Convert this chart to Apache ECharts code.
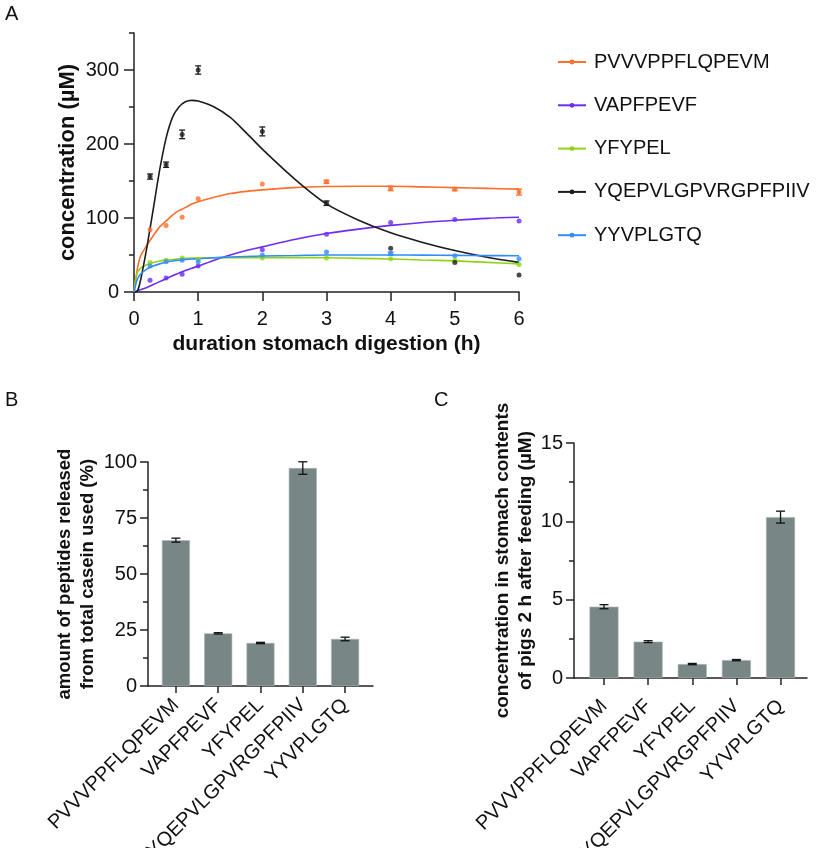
<!DOCTYPE html>
<html>
<head>
<meta charset="utf-8">
<script src="https://cdn.jsdelivr.net/npm/echarts@6/dist/echarts.min.js"></script>
<style>
html,body{margin:0;padding:0;background:#fff;}
#chart{width:825px;height:848px;}
</style>
</head>
<body>
<div id="chart"></div>
<script>
// ---------- DATA ----------
var peptides = ['PVVVPPFLQPEVM', 'VAPFPEVF', 'YFYPEL', 'YQEPVLGPVRGPFPIIV', 'YYVPLGTQ'];
var colorsA = ['#ff6e2a', '#6c2cf6', '#8fd314', '#1c1c1c', '#2e8cff'];

// Panel A measured points (time in h, concentration in µM)
var timesA = [0.25, 0.5, 0.75, 1, 2, 3, 4, 5, 6];
var pvvvA  = [84, 90, 101, 126, 146, 149, 140, 139, 135];
var vapfA  = [16, 19, 24, 35, 57, 78, 94, 98, 96];
var yfypA  = [40, 43, 46, 44, 46, 46, 45, 43, 37];
var yqepA  = [156, 172, 213, 300, 217, 120, 59, 40, 23];
var yyvpA  = [35, 41, 43, 41, 50, 54, 52, 49, 45];
// error (± SD)
var pvvvErrA = [0, 0, 0, 0, 0, 2, 3, 2, 4];
var vapfErrA = [0, 0, 0, 0, 0, 0, 0, 0, 0];
var yfypErrA = [0, 0, 0, 0, 0, 0, 0, 0, 0];
var yqepErrA = [3.5, 3.6, 5.8, 5.6, 6, 3, 0, 0, 0];
var yyvpErrA = [0, 0, 0, 0, 0, 0, 2, 0, 0];

// Panel A fitted curves
var fitTimes = [0, 0.05, 0.1, 0.2, 0.3, 0.4, 0.5, 0.6, 0.7, 0.8, 0.9, 1, 1.25, 1.5, 1.75, 2, 2.5, 3, 3.5, 4, 4.5, 5, 5.5, 6];
var pvvvFit = [0, 30, 48, 63, 76, 88, 96, 104, 110, 114, 119, 122, 128, 133, 136, 138, 141, 142.5, 143, 143, 142, 141, 140, 139];
var vapfFit = [0, 1.5, 3, 6, 10, 14, 18, 22, 25.5, 29, 32, 35, 43, 50, 56, 61, 71, 79, 85, 90, 94, 97, 99.5, 101];
var yfypFit = [0, 26, 32, 37, 40, 42, 43, 44, 45, 45.5, 46, 46, 46.3, 46.5, 46.5, 46.5, 46.5, 46.3, 45.5, 44.6, 43.3, 42, 40, 38];
var yqepFit = [0, 1, 15, 60, 112, 165, 208, 236, 250, 257, 259, 258, 250, 236, 215, 193, 153, 119, 97, 80, 67, 56, 47, 40];
var yyvpFit = [0, 17, 24, 31, 35, 38, 40.5, 42, 43, 44, 44.5, 45, 46.3, 47.3, 48, 48.7, 49.3, 50, 50, 50, 49.8, 49.5, 49.2, 49];

var yTicksA = [0, 100, 200, 300];
var yMinorA = [50, 150, 250, 350];
var xTicksA = [0, 1, 2, 3, 4, 5, 6];

// Panel B: amount of peptides released from total casein used (%)
var valuesB = [65.1, 23.5, 19.2, 97.3, 21.0];
var errB    = [0.9, 0.3, 0.3, 2.8, 0.8];
// Panel C: concentration in stomach contents of pigs 2 h after feeding (µM)
var valuesC = [4.55, 2.32, 0.89, 1.14, 10.27];
var errC    = [0.13, 0.06, 0.04, 0.04, 0.38];
var catIdx  = [0, 1, 2, 3, 4];

// ---------- BUILD ----------
var FONT = 'Liberation Sans, Arial, Helvetica, sans-serif';
var AX = '#222222';
var BAR = '#788785';

function zip(xs, ys) { return xs.map(function (x, i) { return [x, ys[i]]; }); }
function errData(xs, ys, es) {
  var out = [];
  xs.forEach(function (x, i) { if (es[i] > 0) out.push([x, ys[i] - es[i], ys[i] + es[i]]); });
  return out;
}
function errRender(capHalf, color, width) {
  return function (params, api) {
    var x = api.value(0);
    var lo = api.coord([x, api.value(1)]);
    var hi = api.coord([x, api.value(2)]);
    var st = { stroke: color, lineWidth: width };
    return {
      type: 'group',
      children: [
        { type: 'line', shape: { x1: lo[0], y1: lo[1], x2: hi[0], y2: hi[1] }, style: st },
        { type: 'line', shape: { x1: lo[0] - capHalf, y1: lo[1], x2: lo[0] + capHalf, y2: lo[1] }, style: st },
        { type: 'line', shape: { x1: hi[0] - capHalf, y1: hi[1], x2: hi[0] + capHalf, y2: hi[1] }, style: st }
      ]
    };
  };
}

var pointsA = [pvvvA, vapfA, yfypA, yqepA, yyvpA];
var errsA = [pvvvErrA, vapfErrA, yfypErrA, yqepErrA, yyvpErrA];
var fitsA = [pvvvFit, vapfFit, yfypFit, yqepFit, yyvpFit];

var series = [];
peptides.forEach(function (name, i) {
  series.push({
    name: name, type: 'line', xAxisIndex: 0, yAxisIndex: 0,
    data: zip(fitTimes, fitsA[i]), smooth: 0.3,
    symbol: 'circle', symbolSize: 4, showSymbol: false,
    lineStyle: { color: colorsA[i], width: 1.6 }, itemStyle: { color: colorsA[i] },
    z: 3, silent: true
  });
});
peptides.forEach(function (name, i) {
  series.push({
    name: name + ' data', type: 'scatter', xAxisIndex: 0, yAxisIndex: 0,
    data: zip(timesA, pointsA[i]), symbol: 'circle', symbolSize: 5,
    itemStyle: { color: colorsA[i] }, z: 4, silent: true
  });
  series.push({
    name: name + ' err', type: 'custom', xAxisIndex: 0, yAxisIndex: 0,
    renderItem: errRender(3, colorsA[i], 1.3),
    data: errData(timesA, pointsA[i], errsA[i]), z: 4, silent: true,
    encode: { x: 0, y: [1, 2] }
  });
});
// Panel B bars
series.push({
  name: 'B', type: 'bar', xAxisIndex: 1, yAxisIndex: 2,
  data: zip(catIdx, valuesB), barWidth: 28,
  itemStyle: { color: BAR, borderColor: '#a9b4b3', borderWidth: 0.6 }, silent: true
});
series.push({
  name: 'B err', type: 'custom', xAxisIndex: 1, yAxisIndex: 2,
  renderItem: errRender(4.5, '#111', 1.3), data: errData(catIdx, valuesB, errB), z: 5, silent: true,
  encode: { x: 0, y: [1, 2] }
});
// Panel C bars
series.push({
  name: 'C', type: 'bar', xAxisIndex: 2, yAxisIndex: 3,
  data: zip(catIdx, valuesC), barWidth: 29,
  itemStyle: { color: BAR, borderColor: '#a9b4b3', borderWidth: 0.6 }, silent: true
});
series.push({
  name: 'C err', type: 'custom', xAxisIndex: 2, yAxisIndex: 3,
  renderItem: errRender(4.5, '#111', 1.3), data: errData(catIdx, valuesC, errC), z: 5, silent: true,
  encode: { x: 0, y: [1, 2] }
});

var labelStyle = { color: '#111', fontFamily: FONT, fontSize: 20 };
var nameStyle = { color: '#111', fontFamily: FONT, fontWeight: 'bold' };

var option = {
  animation: false,
  backgroundColor: '#ffffff',
  title: [
    { text: 'A', left: 0, top: -1, textStyle: { fontFamily: FONT, fontSize: 20, fontWeight: 'normal', color: '#111' } },
    { text: 'B', left: 0, top: 385, textStyle: { fontFamily: FONT, fontSize: 20, fontWeight: 'normal', color: '#111' } },
    { text: 'C', left: 429, top: 385, textStyle: { fontFamily: FONT, fontSize: 20, fontWeight: 'normal', color: '#111' } }
  ],
  legend: {
    data: peptides, orient: 'vertical', left: 552, top: 47,
    itemWidth: 28, itemHeight: 6, itemGap: 23.3,
    textStyle: { fontFamily: FONT, fontSize: 20, color: '#111', padding: [0, 0, 0, 3] },
    selectedMode: false
  },
  grid: [
    { left: 134, top: 33, width: 385, height: 259, containLabel: false, outerBoundsMode: 'none' },
    { left: 148, top: 462, width: 225, height: 224, containLabel: false, outerBoundsMode: 'none' },
    { left: 574, top: 443, width: 233, height: 235, containLabel: false, outerBoundsMode: 'none' }
  ],
  xAxis: [
    {
      gridIndex: 0, type: 'value', min: 0, max: 6, interval: 1,
      name: 'duration stomach digestion (h)', nameLocation: 'middle', nameGap: 42,
      nameTextStyle: Object.assign({ fontSize: 21 }, nameStyle),
      axisLine: { show: true, onZero: false, lineStyle: { color: AX, width: 1.5 } },
      axisTick: { show: true, length: 9, lineStyle: { color: AX, width: 1.5 }, customValues: xTicksA },
      axisLabel: Object.assign({ margin: 17, customValues: xTicksA }, labelStyle),
      splitLine: { show: false }
    },
    {
      gridIndex: 1, type: 'value', min: -0.66, max: 4.66,
      axisLine: { show: true, onZero: false, lineStyle: { color: AX, width: 1.5 } },
      axisTick: { show: true, length: 7, lineStyle: { color: AX, width: 1.5 }, customValues: catIdx },
      axisLabel: Object.assign({ margin: 16, rotate: 45, customValues: catIdx,
        formatter: function (v) { return peptides[Math.round(v)]; } }, labelStyle),
      splitLine: { show: false }
    },
    {
      gridIndex: 2, type: 'value', min: -0.68, max: 4.6,
      axisLine: { show: true, onZero: false, lineStyle: { color: AX, width: 1.5 } },
      axisTick: { show: true, length: 7, lineStyle: { color: AX, width: 1.5 }, customValues: catIdx },
      axisLabel: Object.assign({ margin: 25, rotate: 45, customValues: catIdx,
        formatter: function (v) { return peptides[Math.round(v)]; } }, labelStyle),
      splitLine: { show: false }
    }
  ],
  yAxis: [
    {
      gridIndex: 0, type: 'value', min: 0, max: 350, position: 'left',
      name: 'concentration (µM)', nameLocation: 'middle', nameGap: 55,
      nameTextStyle: Object.assign({ fontSize: 22 }, nameStyle),
      axisLine: { show: true, onZero: false, lineStyle: { color: AX, width: 1.5 } },
      axisTick: { show: true, length: 10, lineStyle: { color: AX, width: 1.5 }, customValues: yTicksA },
      axisLabel: Object.assign({ margin: 15, customValues: yTicksA }, labelStyle),
      splitLine: { show: false }
    },
    {
      gridIndex: 0, type: 'value', min: 0, max: 350, position: 'left', offset: 0,
      axisLine: { show: false, onZero: false },
      axisTick: { show: true, length: 5, lineStyle: { color: AX, width: 1.5 }, customValues: yMinorA },
      axisLabel: { show: false },
      splitLine: { show: false }
    },
    {
      gridIndex: 1, type: 'value', min: 0, max: 100, interval: 25,
      name: 'amount of peptides released\nfrom total casein used (%)', nameLocation: 'middle', nameGap: 45,
      nameTextStyle: Object.assign({ fontSize: 18.5, lineHeight: 23 }, nameStyle),
      axisLine: { show: true, onZero: false, lineStyle: { color: AX, width: 1.5 } },
      axisTick: { show: true, length: 8, lineStyle: { color: AX, width: 1.5 } },
      minorTick: { show: true, splitNumber: 2, length: 5, lineStyle: { color: AX, width: 1.5 } },
      axisLabel: Object.assign({ margin: 11 }, labelStyle),
      splitLine: { show: false }, minorSplitLine: { show: false }
    },
    {
      gridIndex: 2, type: 'value', min: 0, max: 15, interval: 5,
      name: 'concentration in stomach contents\nof pigs 2 h after feeding (µM)', nameLocation: 'middle', nameGap: 37,
      nameTextStyle: Object.assign({ fontSize: 19, lineHeight: 23 }, nameStyle),
      axisLine: { show: true, onZero: false, lineStyle: { color: AX, width: 1.5 } },
      axisTick: { show: true, length: 8, lineStyle: { color: AX, width: 1.5 } },
      minorTick: { show: true, splitNumber: 2, length: 5, lineStyle: { color: AX, width: 1.5 } },
      axisLabel: Object.assign({ margin: 11 }, labelStyle),
      splitLine: { show: false }, minorSplitLine: { show: false }
    }
  ],
  series: series
};

var chart = echarts.init(document.getElementById('chart'), null, { renderer: 'canvas' });
chart.setOption(option);
</script>
</body>
</html>
